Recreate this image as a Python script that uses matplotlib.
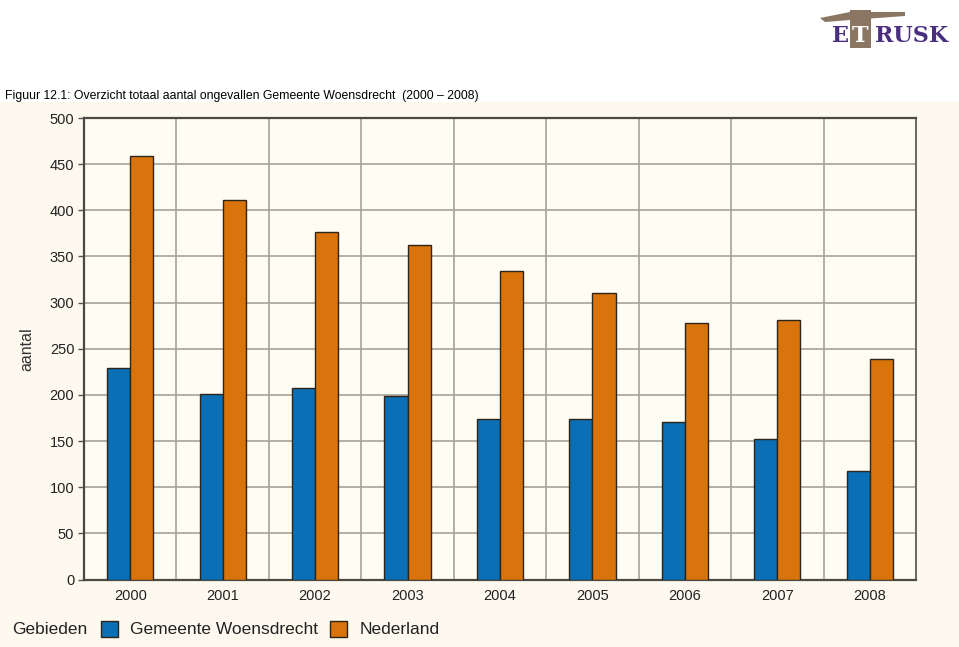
import matplotlib
matplotlib.use("Agg")
import matplotlib.pyplot as plt
import numpy as np
from matplotlib.patches import Rectangle, Polygon

plt.rcParams['font.family'] = ['Liberation Sans', 'DejaVu Sans']

years = ['2000', '2001', '2002', '2003', '2004', '2005', '2006', '2007', '2008']
woensdrecht = [229, 201, 207, 199, 174, 174, 171, 152, 118]
nederland = [459, 411, 377, 362, 334, 310, 278, 281, 239]
yticks = [0, 50, 100, 150, 200, 250, 300, 350, 400, 450, 500]
series_names = ['Gemeente Woensdrecht', 'Nederland']
title = 'Figuur 12.1: Overzicht totaal aantal ongevallen Gemeente Woensdrecht  (2000 \u2013 2008)'

W, H = 959, 647
fig = plt.figure(figsize=(W / 100, H / 100), dpi=100)
fig.patch.set_facecolor('white')

# cream panel behind chart
panel = Rectangle((0, 0), 1, 1 - 102 / H, transform=fig.transFigure,
                  facecolor='#fdf9ee', edgecolor='none', zorder=-10)
fig.patches.append(panel)

ax = fig.add_axes([84 / W, 1 - 579.5 / H, (916 - 84) / W, (579.5 - 118) / H])
ax.set_zorder(1)
ax.set_facecolor('#fffcf3')

blue = '#0a6fb4'
orange = '#d9730b'
edge = '#2e2418'
x = np.arange(len(years))
bw = 0.25
ax.bar(x - bw / 2, woensdrecht, bw, color=blue, edgecolor=edge, linewidth=1.0, zorder=3)
ax.bar(x + bw / 2, nederland, bw, color=orange, edgecolor=edge, linewidth=1.0, zorder=3)

ax.set_xlim(-0.5, len(years) - 0.5)
ax.set_ylim(0, 500)
ax.set_yticks(yticks)
ax.set_yticklabels([str(v) for v in yticks], fontsize=10.5, color='#222222')
ax.set_xticks(x)
ax.set_xticklabels(years, fontsize=10.5, color='#222222')
ax.tick_params(axis='x', length=0, pad=7)
ax.tick_params(axis='y', length=4, width=1, color='#555555', pad=3)

ax.set_xticks(np.arange(0.5, len(years) - 0.5, 1), minor=True)
ax.grid(True, which='minor', axis='x', color='#a8a297', linewidth=1.2, zorder=1)
ax.grid(True, which='major', axis='y', color='#a8a297', linewidth=1.2, zorder=1)
ax.grid(False, which='major', axis='x')
ax.tick_params(axis='x', which='minor', length=0)
ax.set_axisbelow(True)

for s in ['left', 'bottom', 'top']:
    ax.spines[s].set_color('#4a4a44')
    ax.spines[s].set_linewidth(1.6)
ax.spines['right'].set_color('#6a6a62')
ax.spines['right'].set_linewidth(1.4)

ax.set_ylabel('aantal', fontsize=11.5, color='#333333', labelpad=11)

fig.text(5 / W, 1 - 96 / H, title, fontsize=8.8, color='black', va='center', ha='left')

# legend row
ly = 1 - 629 / H
fig.text(12 / W, ly, 'Gebieden', fontsize=12.5, color='#222222', va='center', ha='left')
fig.patches.append(Rectangle((101 / W, 1 - 637 / H), 17 / W, 16 / H, transform=fig.transFigure,
                             facecolor=blue, edgecolor=edge, linewidth=1.0))
fig.text(130 / W, ly, series_names[0], fontsize=12.5, color='#222222', va='center', ha='left')
fig.patches.append(Rectangle((330 / W, 1 - 637 / H), 17 / W, 16 / H, transform=fig.transFigure,
                             facecolor=orange, edgecolor=edge, linewidth=1.0))
fig.text(360 / W, ly, series_names[1], fontsize=12.5, color='#222222', va='center', ha='left')

# logo
purple = '#4a2f7f'
brown = '#8a7662'
fig.patches.append(Polygon([(820 / W, 1 - 18 / H), (850 / W, 1 - 12 / H), (905 / W, 1 - 12 / H),
                            (905 / W, 1 - 16 / H), (850 / W, 1 - 20 / H), (825 / W, 1 - 22 / H)],
                           closed=True, transform=fig.transFigure, facecolor=brown, edgecolor='none'))
fig.patches.append(Rectangle((850 / W, 1 - 48 / H), 21 / W, 38 / H, transform=fig.transFigure,
                             facecolor=brown, edgecolor='none'))
fig.text(840 / W, 1 - 36 / H, 'E', fontsize=16, fontweight='bold', family='DejaVu Serif',
         color=purple, ha='center', va='center')
fig.text(860.5 / W, 1 - 36 / H, 'T', fontsize=16, fontweight='bold', family='DejaVu Serif',
         color='white', ha='center', va='center')
fig.text(875 / W, 1 - 36 / H, 'RUSK', fontsize=16, fontweight='bold', family='DejaVu Serif',
         color=purple, ha='left', va='center')

fig.savefig('out.png', dpi=100, facecolor=fig.get_facecolor())
